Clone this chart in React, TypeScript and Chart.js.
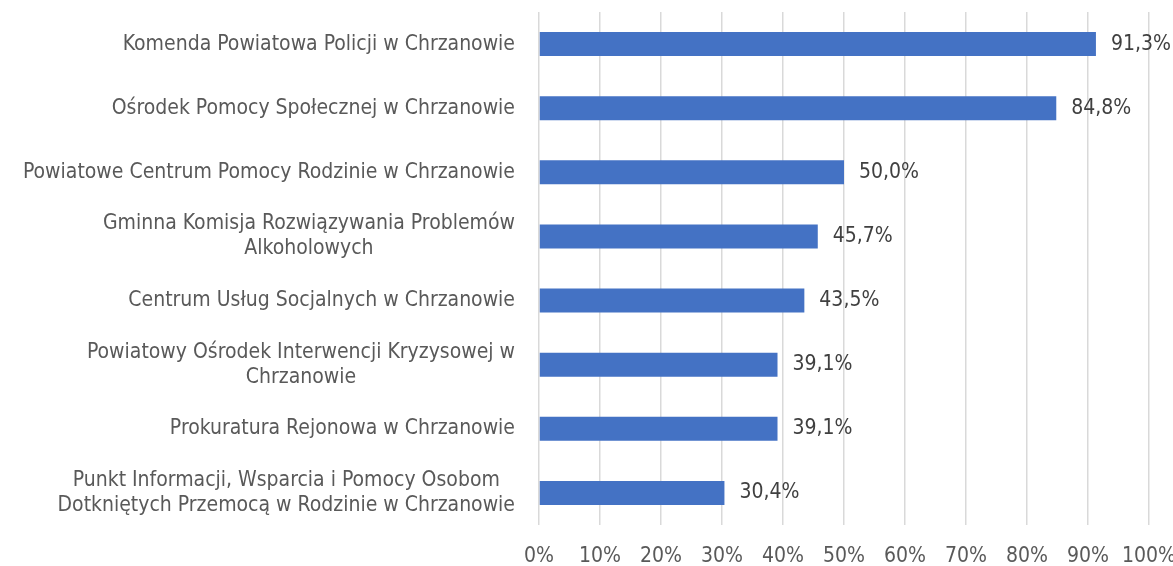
import React, { useEffect, useRef } from "react";
import { Chart, registerables } from "chart.js";

Chart.register(...registerables);

const categories: string[][] = [
  ["Komenda Powiatowa Policji w Chrzanowie"],
  ["Ośrodek Pomocy Społecznej w Chrzanowie"],
  ["Powiatowe Centrum Pomocy Rodzinie w Chrzanowie"],
  ["Gminna Komisja Rozwiązywania Problemów", "Alkoholowych"],
  ["Centrum Usług Socjalnych w Chrzanowie"],
  ["Powiatowy Ośrodek Interwencji Kryzysowej w", "Chrzanowie"],
  ["Prokuratura Rejonowa w Chrzanowie"],
  ["Punkt Informacji, Wsparcia i Pomocy Osobom", "Dotkniętych Przemocą w Rodzinie w Chrzanowie"],
];
const values: number[] = [91.3, 84.8, 50.0, 45.7, 43.5, 39.1, 39.1, 30.4];
const xTicks: number[] = [0, 10, 20, 30, 40, 50, 60, 70, 80, 90, 100];

const FONT = "'Liberation Sans Narrow', 'DejaVu Sans Condensed', sans-serif";
const FONT_SIZE = 21;
const TEXT = "#595959";

const fmt = (v: number) => v.toFixed(1).replace(".", ",") + "%";

const labelPlugin = {
  id: "customLabels",
  afterDatasetsDraw(chart: any) {
    const ctx = chart.ctx;
    const yScale = chart.scales.y;
    const meta = chart.getDatasetMeta(0);
    ctx.save();
    ctx.font = `${FONT_SIZE}px ${FONT}`;
    ctx.fillStyle = TEXT;
    const right = chart.chartArea.left - 24;
    const lh = 25;
    categories.forEach((lines, i) => {
      const yc = yScale.getPixelForValue(i);
      const widths = lines.map((l) => ctx.measureText(l).width);
      const maxW = Math.max(...widths);
      const centerX = right - maxW / 2;
      ctx.textBaseline = "middle";
      ctx.textAlign = "center";
      const y0 = yc - ((lines.length - 1) * lh) / 2;
      lines.forEach((l, j) => {
        ctx.fillText(l, centerX, y0 + j * lh);
      });
    });
    ctx.fillStyle = "#404040";
    ctx.textAlign = "left";
    ctx.textBaseline = "middle";
    meta.data.forEach((bar: any, i: number) => {
      ctx.fillText(fmt(values[i]), bar.x + 15, bar.y);
    });
    ctx.restore();
  },
};

export default function App() {
  const ref = useRef<HTMLCanvasElement | null>(null);
  useEffect(() => {
    if (!ref.current) return;
    const chart = new Chart(ref.current, {
      type: "bar",
      data: {
        labels: categories.map((c) => c.join(" ")),
        datasets: [
          {
            data: values,
            backgroundColor: "#4472C4",
            barPercentage: 0.75,
            categoryPercentage: 0.5,
          },
        ],
      },
      options: {
        indexAxis: "y",
        animation: false,
        responsive: true,
        maintainAspectRatio: false,
        layout: { padding: { top: 12, right: 24, left: 0, bottom: 0 } },
        plugins: { legend: { display: false }, tooltip: { enabled: false } },
        scales: {
          x: {
            min: 0,
            max: 100,
            afterBuildTicks: (s: any) => {
              s.ticks = xTicks.map((v) => ({ value: v }));
            },
            afterFit: (s: any) => {
              s.height = 41;
              s.paddingRight = 0;
              s.paddingLeft = 0;
            },
            grid: { color: "#d9d9d9", lineWidth: 1.5, drawTicks: false },
            border: { display: false },
            ticks: {
              padding: 19,
              color: TEXT,
              font: { family: FONT, size: FONT_SIZE },
              callback: (v: any) => v + "%",
            },
          },
          y: {
            grid: { display: false },
            border: { display: false },
            ticks: { display: false },
            afterFit: (s: any) => {
              s.width = 539;
            },
          },
        },
      },
      plugins: [labelPlugin],
    });
    return () => chart.destroy();
  }, []);
  return (
    <div style={{ position: "fixed", left: 0, top: 0, width: 1173, height: 566, background: "#fff" }}>
      <canvas ref={ref} />
    </div>
  );
}
